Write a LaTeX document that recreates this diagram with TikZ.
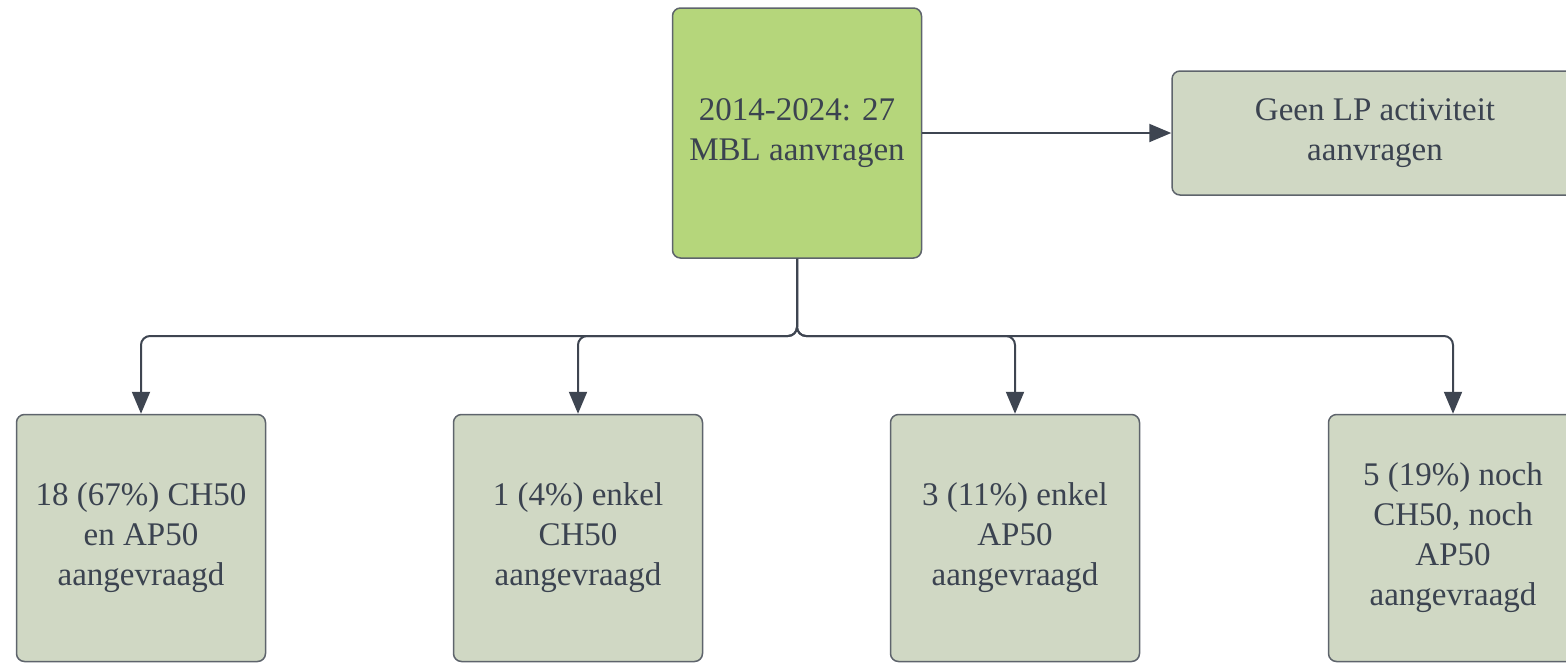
\documentclass[tikz,border=0pt]{standalone}
\usepackage{fontspec}
\setmainfont{Liberation Serif}
\usepackage{tikz}
\usetikzlibrary{arrows.meta}
\definecolor{boxgreen}{HTML}{B5D67B}
\definecolor{boxgrey}{HTML}{D0D8C4}
\definecolor{boxline}{HTML}{5E646C}
\definecolor{wire}{HTML}{3E4551}
\definecolor{ink}{HTML}{3B4350}
\tikzset{
  box/.style={draw=boxline, line width=1.5pt, rounded corners=8pt, fill=boxgrey,
    text=ink, align=center, inner sep=0pt, font=\fontsize{33}{40}\selectfont},
  wire/.style={draw=wire, line width=2pt, rounded corners=9pt,
    -{Triangle[length=22pt,width=18pt]}}
}

\begin{document}
\begin{tikzpicture}[x=1pt, y=-1pt]
\newcommand{\boxw}{249}
\newcommand{\busy}{336}
\clip (0, 0) rectangle (1566, 665);
% boxes
\node[box, fill=boxgreen, minimum width=\boxw pt, minimum height=250pt] (total) at (797, 133) {2014-2024: 27\\MBL aanvragen};
\node[box, minimum width=406pt, minimum height=124pt] (geenlp) at (1375, 133) {Geen LP activiteit\\aanvragen};
\node[box, minimum width=\boxw pt, minimum height=247pt] (beide) at (141, 538) {18 (67\%) CH50\\en AP50\\aangevraagd};
\node[box, minimum width=\boxw pt, minimum height=247pt] (enkelch) at (578, 538) {1 (4\%) enkel\\CH50\\aangevraagd};
\node[box, minimum width=\boxw pt, minimum height=247pt] (enkelap) at (1015, 538) {3 (11\%) enkel\\AP50\\aangevraagd};
\node[box, minimum width=\boxw pt, minimum height=247pt] (geen) at (1453, 538) {5 (19\%) noch\\CH50, noch\\AP50\\aangevraagd};
% connectors
\draw[wire] (total) -- (geenlp);
\foreach \b in {beide, enkelch, enkelap, geen}
  \draw[wire] (total.south) -- (797, \busy) -| (\b.north);
\end{tikzpicture}
\end{document}
